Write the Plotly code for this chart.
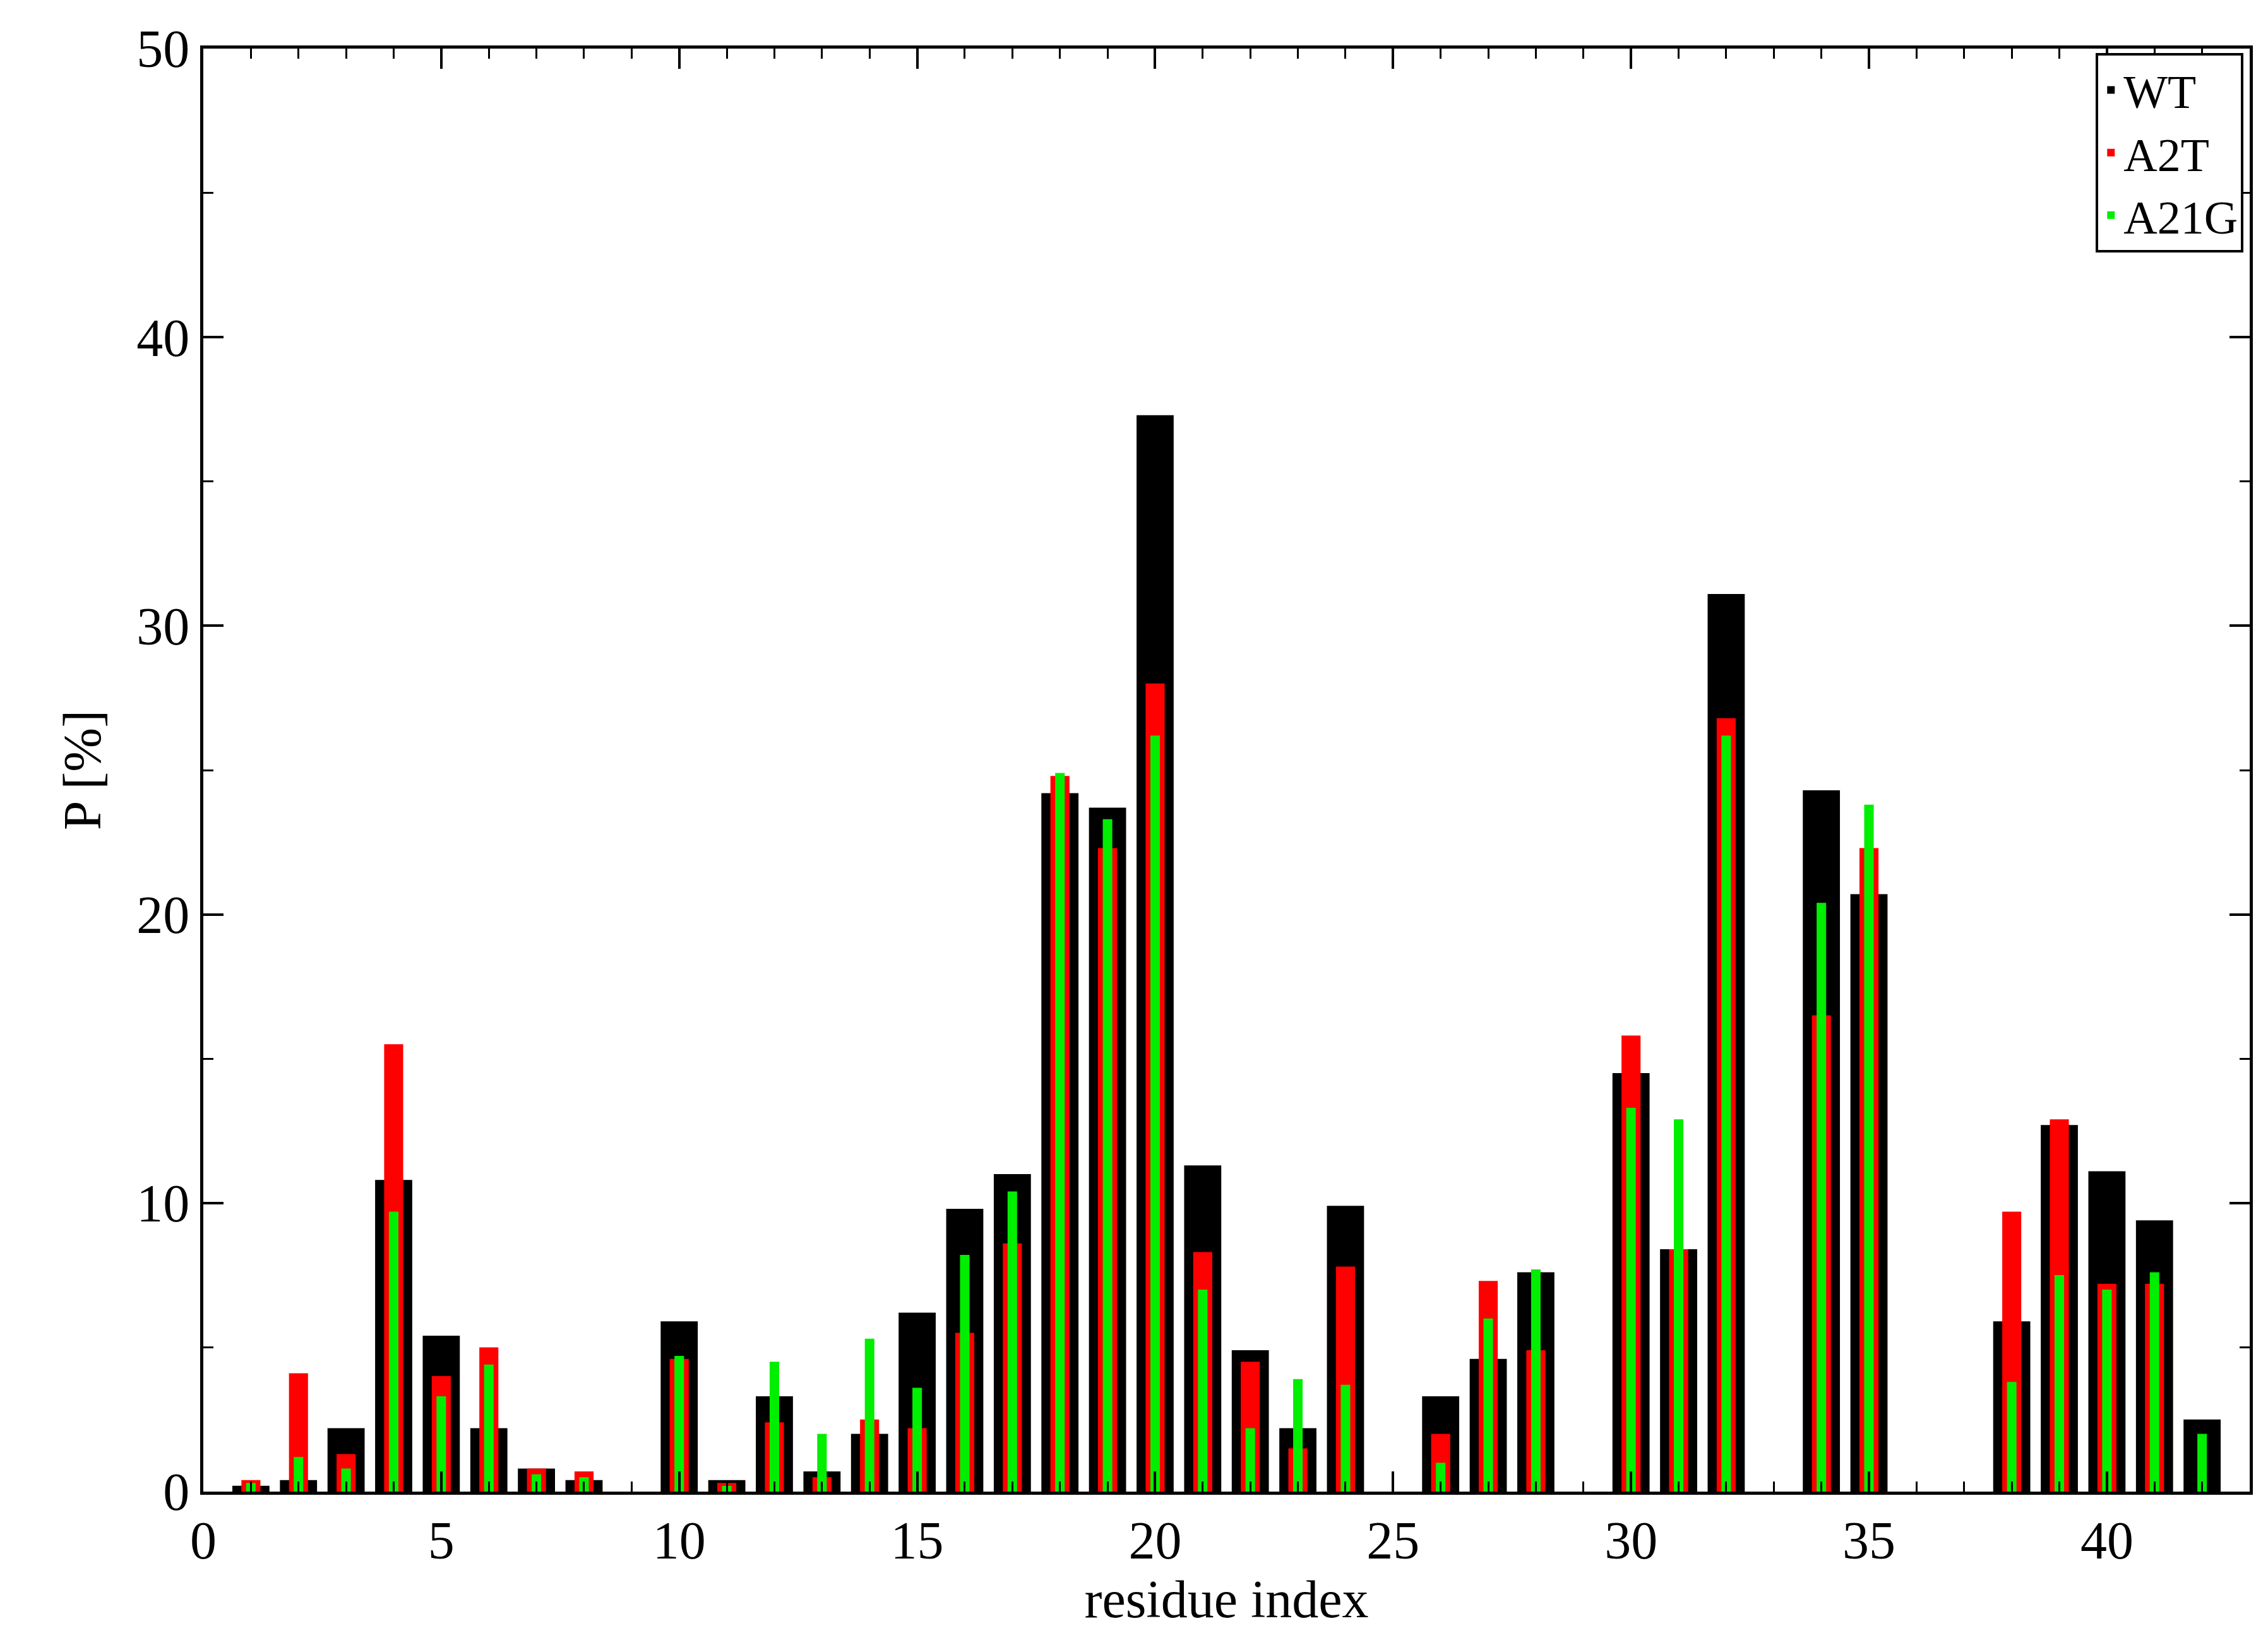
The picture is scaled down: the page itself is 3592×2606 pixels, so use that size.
import plotly.graph_objects as go

residues = list(range(1, 43))
wt = [0.2,0.4,2.2,10.8,5.4,2.2,0.8,0.4,0,5.9,0.4,3.3,0.7,2.0,6.2,9.8,11.0,24.2,23.7,37.3,
      11.3,4.9,2.2,9.9,0,3.3,4.6,7.6,0,14.5,8.4,31.1,0,24.3,20.7,0,0,5.9,12.7,11.1,9.4,2.5]
a2t = [0.4,4.1,1.3,15.5,4.0,5.0,0.8,0.7,0,4.6,0.3,2.4,0.5,2.5,2.2,5.5,8.6,24.8,22.3,28.0,
       8.3,4.5,1.5,7.8,0,2.0,7.3,4.9,0,15.8,8.4,26.8,0,16.5,22.3,0,0,9.7,12.9,7.2,7.2,0]
a21g = [0.3,1.2,0.8,9.7,3.3,4.4,0.6,0.5,0,4.7,0.2,4.5,2.0,5.3,3.6,8.2,10.4,24.9,23.3,26.2,
        7.0,2.2,3.9,3.7,0,1.0,6.0,7.7,0,13.3,12.9,26.2,0,20.4,23.8,0,0,3.8,7.5,7.0,7.6,2.0]

font = "Liberation Serif, Times New Roman, serif"
fig = go.Figure()
fig.add_bar(x=residues, y=wt, width=0.78, marker_color="black", marker_line_width=0, name="WT")
fig.add_bar(x=residues, y=a2t, width=0.4, marker_color="red", marker_line_width=0, name="A2T")
fig.add_bar(x=residues, y=a21g, width=0.2, marker_color="#00ee00", marker_line_width=0, name="A21G")

axis_common = dict(showgrid=False, zeroline=False, showline=True, linecolor="black", linewidth=5,
                   mirror="ticks", ticks="inside", ticklen=32, tickwidth=4, tickcolor="black",
                   tickfont=dict(size=84, family=font, color="black"),
                   title_font=dict(size=84, family=font, color="black"))
fig.update_layout(
    barmode="overlay", width=3592, height=2606, plot_bgcolor="white", paper_bgcolor="white",
    margin=dict(l=314, r=37, t=69, b=251),
    font=dict(family=font, color="black"),
    legend=dict(x=0.997, y=0.997, xanchor="right", yanchor="top", bordercolor="black", borderwidth=4,
                bgcolor="white", font=dict(size=74, family=font), traceorder="normal"),
)
fig.update_xaxes(range=[0, 43], dtick=5, tick0=0, title_text="residue index", title_standoff=10,
                 minor=dict(dtick=1, ticks="inside", ticklen=16, tickwidth=3, tickcolor="black"),
                 **axis_common)
fig.update_yaxes(range=[0, 50], dtick=10, tick0=0, title_text="P [%]", title_standoff=30,
                 minor=dict(dtick=5, ticks="inside", ticklen=16, tickwidth=3, tickcolor="black"),
                 **axis_common)
fig.write_html("out.html")
